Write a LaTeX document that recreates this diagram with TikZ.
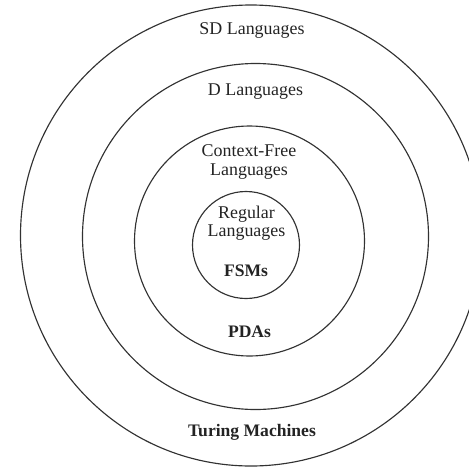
\documentclass[tikz,border=0pt]{standalone}
\usepackage{fontspec}
\setmainfont{Liberation Serif}
\usepackage{xcolor}
\usepackage{tikz}
\definecolor{ringgray}{RGB}{50, 50, 50}
\definecolor{labelgray}{RGB}{35, 35, 35}

\begin{document}
\begin{tikzpicture}
    \tikzstyle{ring} = [circle, draw=ringgray, line width=0.65pt, inner sep=0pt]
    \tikzstyle{lang} = [text=labelgray, align=center, inner sep=0pt,
                        font=\fontsize{10.2}{10.3}\selectfont]
    \tikzstyle{machine} = [text=labelgray, align=center, inner sep=0pt,
                           font=\fontsize{10}{10.3}\selectfont\bfseries]

    \useasboundingbox (0,0) rectangle (9.38,9.34);

    % Rings, outer to inner
    \node[ring, minimum size=9.22cm] (sd) at (5.02,4.63) {};
    \node[ring, minimum size=6.92cm] (dec) at (5.11,4.61) {};
    \node[ring, minimum size=4.60cm] (cf) at (4.99,4.52) {};
    \node[ring, minimum size=2.14cm] (reg) at (4.92,4.44) {};

    % Language classes
    \node[lang] (sdlang) at (5.04,8.73) {SD Languages};
    \node[lang] (declang) at (5.11,7.51) {D Languages};
    \node[lang] (cflang) at (4.98,6.10) {Context-Free\\Languages};
    \node[lang] (reglang) at (4.93,4.87) {Regular\\Languages};

    % Machines
    \node[machine] (fsm) at (4.92,3.93) {FSMs};
    \node[machine] (pda) at (4.99,2.71) {PDAs};
    \node[machine] (tm) at (5.04,0.69) {Turing Machines};
\end{tikzpicture}
\end{document}
